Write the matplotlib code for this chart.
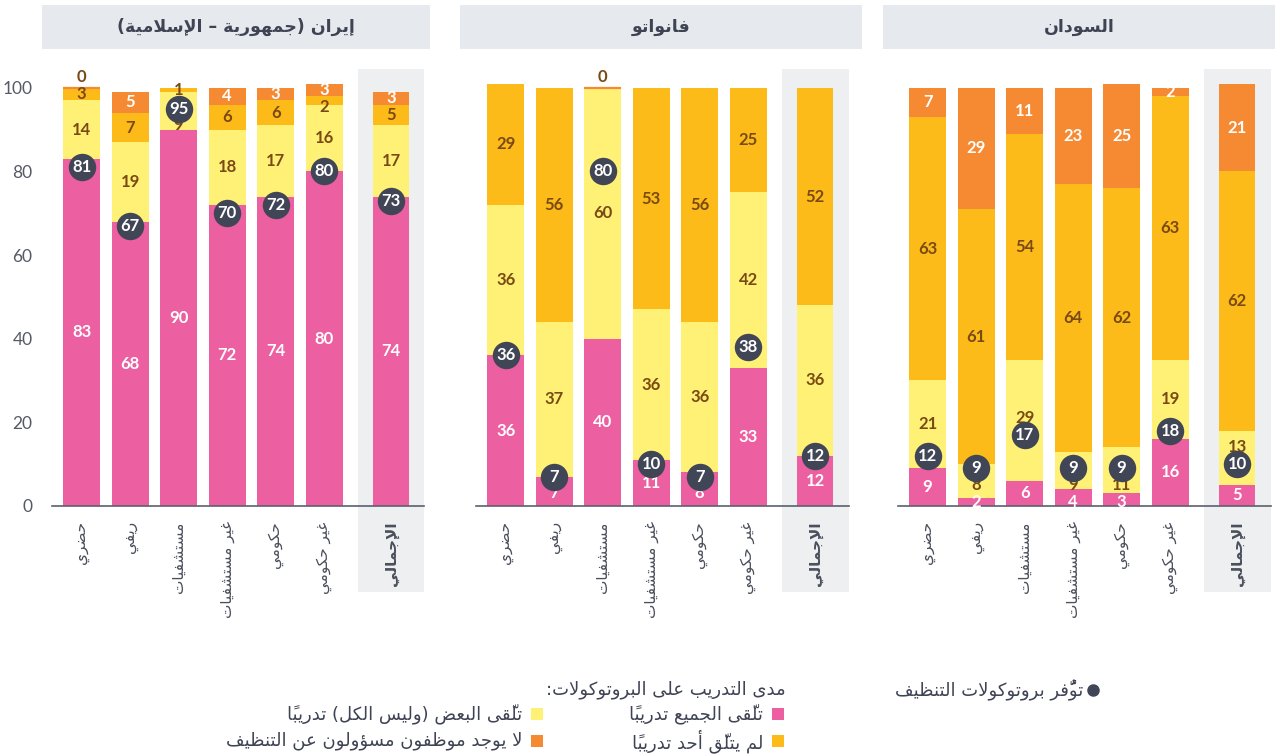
import numpy as np
import matplotlib
matplotlib.use('Agg')
import matplotlib.pyplot as plt
from matplotlib.patches import Rectangle
from matplotlib.lines import Line2D

# --- data ---
categories = ['حضري', 'ريفي', 'مستشفيات', 'غير مستشفيات', 'حكومي', 'غير حكومي', 'الإجمالي']
countries = ['إيران (جمهورية – الإسلامية)', 'فانواتو', 'السودان']

nan = np.nan
iran_all = [83, 68, 90, 72, 74, 80, 74]
iran_some = [14, 19, 9, 18, 17, 16, 17]
iran_none = [3, 7, 1, 6, 6, 2, 5]
iran_nostaff = [0, 5, nan, 4, 3, 3, 3]
iran_protocols = [81, 67, 95, 70, 72, 80, 73]

vanuatu_all = [36, 7, 40, 11, 8, 33, 12]
vanuatu_some = [36, 37, 60, 36, 36, 42, 36]
vanuatu_none = [29, 56, nan, 53, 56, 25, 52]
vanuatu_nostaff = [nan, nan, 0, nan, nan, nan, nan]
vanuatu_protocols = [36, 7, 80, 10, 7, 38, 12]

sudan_all = [9, 2, 6, 4, 3, 16, 5]
sudan_some = [21, 8, 29, 9, 11, 19, 13]
sudan_none = [63, 61, 54, 64, 62, 63, 62]
sudan_nostaff = [7, 29, 11, 23, 25, 2, 21]
sudan_protocols = [12, 9, 17, 9, 9, 18, 10]

legend_dot = 'توفُّر بروتوكولات التنظيف'
legend_title = 'مدى التدريب على البروتوكولات:'
legend_labels = ['تلقّى الجميع تدريباً', 'تلقّى البعض (وليس الكل) تدريباً',
                 'لم يتلقّ أحد تدريباً', 'لا يوجد موظفون مسؤولون عن التنظيف']
yticks = [0, 20, 40, 60, 80, 100]

# colours
PINK = '#ec5fa0'
YELLOW = '#fff176'
AMBER = '#fcbb18'
ORANGE = '#f68a33'
DOT = '#414656'
BROWN = '#7a4a14'
TEXT = '#3f4454'
seg_colors = [PINK, YELLOW, AMBER, ORANGE]
seg_text = ['white', BROWN, BROWN, 'white']

# --- minimal arabic shaping (matplotlib has no RTL layout) ---
FORMS = {
    'ء': (0xFE80, 'n'), 'آ': (0xFE81, 'r'), 'أ': (0xFE83, 'r'), 'ؤ': (0xFE85, 'r'),
    'إ': (0xFE87, 'r'), 'ئ': (0xFE89, 'd'), 'ا': (0xFE8D, 'r'), 'ب': (0xFE8F, 'd'),
    'ة': (0xFE93, 'r'), 'ت': (0xFE95, 'd'), 'ث': (0xFE99, 'd'), 'ج': (0xFE9D, 'd'),
    'ح': (0xFEA1, 'd'), 'خ': (0xFEA5, 'd'), 'د': (0xFEA9, 'r'), 'ذ': (0xFEAB, 'r'),
    'ر': (0xFEAD, 'r'), 'ز': (0xFEAF, 'r'), 'س': (0xFEB1, 'd'), 'ش': (0xFEB5, 'd'),
    'ص': (0xFEB9, 'd'), 'ض': (0xFEBD, 'd'), 'ط': (0xFEC1, 'd'), 'ظ': (0xFEC5, 'd'),
    'ع': (0xFEC9, 'd'), 'غ': (0xFECD, 'd'), 'ف': (0xFED1, 'd'), 'ق': (0xFED5, 'd'),
    'ك': (0xFED9, 'd'), 'ل': (0xFEDD, 'd'), 'م': (0xFEE1, 'd'), 'ن': (0xFEE5, 'd'),
    'ه': (0xFEE9, 'd'), 'و': (0xFEED, 'r'), 'ى': (0xFEEF, 'r'), 'ي': (0xFEF1, 'd'),
}
LAM_ALEF = {'آ': 0xFEF5, 'أ': 0xFEF7, 'إ': 0xFEF9, 'ا': 0xFEFB}
MARKS = set(chr(c) for c in range(0x064B, 0x0653))
MIRROR = {'(': ')', ')': '('}


def ar(text):
    out = []
    prev_dual = False
    i, n = 0, len(text)
    while i < n:
        c = text[i]
        if c in MARKS:
            if out:
                out[-1] += c
            else:
                out.append(c)
            i += 1
            continue
        if c not in FORMS:
            out.append(MIRROR.get(c, c))
            prev_dual = False
            i += 1
            continue
        j = i + 1
        while j < n and text[j] in MARKS:
            j += 1
        nxt = text[j] if j < n else ''
        if c == 'ل' and nxt in LAM_ALEF:
            out.append(chr(LAM_ALEF[nxt] + (1 if prev_dual else 0)) + text[i + 1:j])
            prev_dual = False
            i = j + 1
            continue
        base, kind = FORMS[c]
        join_next = kind == 'd' and nxt in FORMS
        if kind == 'n':
            form = 0
        elif prev_dual and join_next:
            form = 3
        elif prev_dual:
            form = 1
        elif join_next:
            form = 2
        else:
            form = 0
        out.append(chr(base + form))
        prev_dual = kind == 'd'
        i += 1
    return ''.join(reversed(out))


# --- layout helpers (pixels -> figure fraction) ---
W, H = 1275, 756


def fx(px):
    return px / W


def fy(py):
    return 1 - py / H


plt.rcParams['font.family'] = ['DejaVu Sans']
NUMFONT = ['Lato', 'DejaVu Sans']

fig = plt.figure(figsize=(W / 100, H / 100), dpi=100)

panels = [
    (countries[0], [iran_all, iran_some, iran_none, iran_nostaff], iran_protocols, 52, (42, 430)),
    (countries[1], [vanuatu_all, vanuatu_some, vanuatu_none, vanuatu_nostaff], vanuatu_protocols, 476, (460, 862)),
    (countries[2], [sudan_all, sudan_some, sudan_none, sudan_nostaff], sudan_protocols, 898, (883, 1275)),
]

xpos = np.array([0, 1, 2, 3, 4, 5, 6.38])
bar_w = 0.76

for k, (name, series, protocols, left_px, box) in enumerate(panels):
    ax = fig.add_axes([fx(left_px), fy(592), 372.5 / W, 523 / H])
    ax.set_xlim(-0.61, 7.07)
    ax.set_ylim(-20.6, 104.5)

    # grey band behind the total bar
    ax.axvspan(xpos[-1] - 0.69, xpos[-1] + 0.69, color='#eeeff1', zorder=0, lw=0)

    bottom = np.zeros(len(categories))
    labels = [[] for _ in categories]   # per bar: [y, text, colour]
    for s, vals in enumerate(series):
        vals = np.array(vals, dtype=float)
        for i, v in enumerate(vals):
            if np.isnan(v):
                continue
            if v == 0:
                # zero share: just a thin line on top
                ax.bar(xpos[i], 0, bar_w, bottom=bottom[i], edgecolor=seg_colors[s],
                       linewidth=1.6, zorder=2)
                labels[i].append([bottom[i] + 2.6, '0', BROWN])
                continue
            ax.bar(xpos[i], v, bar_w, bottom=bottom[i], color=seg_colors[s], lw=0, zorder=2)
            yc = bottom[i] + v / 2
            d = yc - protocols[i]
            if abs(d) < 4:
                yc = protocols[i] + (4 if d > 0 else -4)
            labels[i].append([yc, f'{v:g}', seg_text[s]])
        bottom += np.nan_to_num(vals)

    # keep stacked labels of thin segments apart
    for i, labs in enumerate(labels):
        for j in range(len(labs) - 2, -1, -1):
            if labs[j][0] > labs[j + 1][0] - 4:
                labs[j][0] = labs[j + 1][0] - 4
        for y, t, col in labs:
            ax.text(xpos[i], y, t, ha='center', va='center', color=col,
                    fontsize=12, family=NUMFONT, fontweight='bold', zorder=5)

    # availability of cleaning protocols
    ax.scatter(xpos, protocols, s=390, color=DOT, zorder=6, linewidths=0)
    for x, p in zip(xpos, protocols):
        ax.text(x, p, str(p), ha='center', va='center', color='white', fontsize=12,
                family=NUMFONT, fontweight='bold', zorder=7)

    for sp in ['top', 'right', 'left']:
        ax.spines[sp].set_visible(False)
    ax.spines['bottom'].set_color('#5a6070')
    ax.spines['bottom'].set_linewidth(1.2)
    ax.spines['bottom'].set_position(('data', 0))

    ax.set_xticks(xpos)
    ax.set_xticklabels([ar(c) for c in categories], rotation=90, fontsize=11, color='#4a4f5c')
    ax.get_xticklabels()[-1].set_fontweight('bold')
    ax.tick_params(axis='x', length=0, pad=11)
    ax.set_yticks(yticks)
    if k == 0:
        ax.set_yticklabels([str(t) for t in yticks], fontsize=12.5, color='#555a66', family=NUMFONT)
        ax.tick_params(axis='y', length=0, pad=14)
    else:
        ax.tick_params(axis='y', length=0, labelleft=False)

    # title box
    fig.patches.append(Rectangle((fx(box[0]), fy(49)), (box[1] - box[0]) / W, 44 / H,
                                 transform=fig.transFigure, color='#e6e9ed', lw=0, zorder=0))
    fig.text(fx((box[0] + box[1]) / 2), fy(27), ar(name), ha='center', va='center',
             fontsize=12.5, fontweight='bold', color=TEXT)

# --- legend ---
fig.add_artist(Line2D([fx(1093)], [fy(690)], marker='o', markersize=8, color=DOT,
                      transform=fig.transFigure, lw=0))
fig.text(fx(1083), fy(690), ar(legend_dot), ha='right', va='center', fontsize=13, color=TEXT)
fig.text(fx(786), fy(690), ar(legend_title), ha='right', va='center', fontsize=13, color=TEXT)

sq = [(784, 714), (543, 714), (784, 741), (543, 741)]
for (px, py), lab, col in zip(sq, legend_labels, seg_colors):
    fig.patches.append(Rectangle((fx(px - 12), fy(py + 6)), 12 / W, 12 / H,
                                 transform=fig.transFigure, color=col, lw=0))
    fig.text(fx(px - 21), fy(py), ar(lab), ha='right', va='center', fontsize=13, color=TEXT)

fig.savefig('out.png', dpi=100)
